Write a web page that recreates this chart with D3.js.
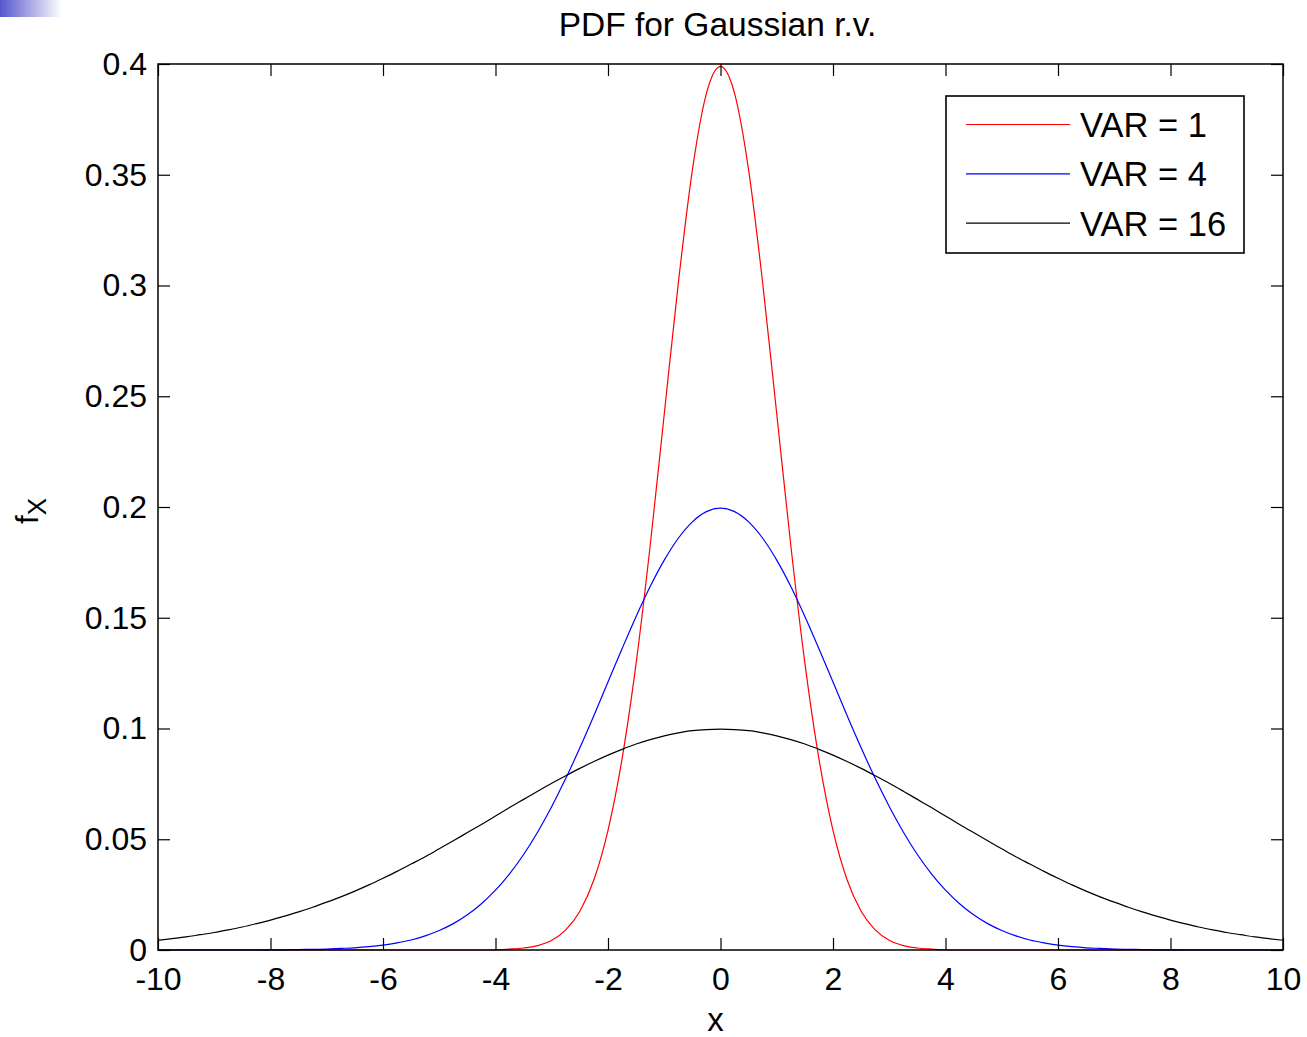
<!DOCTYPE html>
<html>
<head>
<meta charset="utf-8">
<style>
  body { margin: 0; background: #fff; }
  svg text { font-family: "Liberation Sans", Arial, sans-serif; fill: #000; }
</style>
</head>
<body>
<script src="https://d3js.org/d3.v7.min.js"></script>
<script>
// sample points on x (step 0.25)
var xs = d3.range(-10, 10.0001, 0.25);

// pdf values, left to right
var var1 = [
  0,0,0,0,0,0,0,0,0,0, 0,0,0,0,0,0,0,0,0,0,
  0,0,0,0,0.0001,0.0004,0.0009,0.0020,0.0044,0.0091,
  0.0175,0.0317,0.0540,0.0863,0.1295,0.1826,0.2420,0.3011,0.3521,0.3867,
  0.3989,
  0.3867,0.3521,0.3011,0.2420,0.1826,0.1295,0.0863,0.0540,0.0317,0.0175,
  0.0091,0.0044,0.0020,0.0009,0.0004,0.0001,0,0,0,0,
  0,0,0,0,0,0,0,0,0,0, 0,0,0,0,0,0,0,0,0,0
];
var var4 = [
  0,0,0,0,0,0,0,0,
  0.0001,0.0001,0.0002,0.0003,0.0004,0.0007,0.0010,0.0015,0.0022,0.0032,0.0045,0.0064,
  0.0088,0.0119,0.0159,0.0209,0.0270,0.0344,0.0431,0.0533,0.0648,0.0775,
  0.0913,0.1059,0.1210,0.1360,0.1506,0.1641,0.1760,0.1859,0.1933,0.1979,
  0.1995,
  0.1979,0.1933,0.1859,0.1760,0.1641,0.1506,0.1360,0.1210,0.1059,0.0913,
  0.0775,0.0648,0.0533,0.0431,0.0344,0.0270,0.0209,0.0159,0.0119,0.0088,
  0.0064,0.0045,0.0032,0.0022,0.0015,0.0010,0.0007,0.0004,0.0003,0.0002,
  0.0001,0.0001,0,0,0,0,0,0,0,0
];
var var16 = [
  0.0044,0.0051,0.0059,0.0069,0.0079,0.0091,0.0104,0.0119,0.0135,0.0153,
  0.0172,0.0193,0.0216,0.0240,0.0266,0.0294,0.0324,0.0355,0.0388,0.0421,
  0.0457,0.0493,0.0530,0.0567,0.0605,0.0643,0.0680,0.0717,0.0753,0.0787,
  0.0820,0.0851,0.0880,0.0906,0.0930,0.0950,0.0967,0.0980,0.0990,0.0995,
  0.0997,
  0.0995,0.0990,0.0980,0.0967,0.0950,0.0930,0.0906,0.0880,0.0851,0.0820,
  0.0787,0.0753,0.0717,0.0680,0.0643,0.0605,0.0567,0.0530,0.0493,0.0457,
  0.0421,0.0388,0.0355,0.0324,0.0294,0.0266,0.0240,0.0216,0.0193,0.0172,
  0.0153,0.0135,0.0119,0.0104,0.0091,0.0079,0.0069,0.0059,0.0051,0.0044
];

var seriesNames = ['VAR = 1', 'VAR = 4', 'VAR = 16'];
var seriesColors = ['#ff0000', '#0000ff', '#000000'];
var seriesData = [var1, var4, var16];

var xTicks = [-10, -8, -6, -4, -2, 0, 2, 4, 6, 8, 10];
var yTicks = [0, 0.05, 0.1, 0.15, 0.2, 0.25, 0.3, 0.35, 0.4];

var width = 1307, height = 1037;
var margin = { top: 64, right: 24, bottom: 87, left: 158 };
var plotW = width - margin.left - margin.right;   // 1125
var plotH = height - margin.top - margin.bottom;  // 886

var svg = d3.select('body').append('svg')
  .attr('width', width)
  .attr('height', height);

// little gradient strip in the upper left corner
var grad = svg.append('defs').append('linearGradient').attr('id', 'corner');
grad.append('stop').attr('offset', '0%').attr('stop-color', '#5656cc');
grad.append('stop').attr('offset', '100%').attr('stop-color', '#ffffff');
svg.append('rect').attr('x', 0).attr('y', 0).attr('width', 62).attr('height', 17)
  .attr('fill', 'url(#corner)');

var xScale = d3.scaleLinear().domain([-10, 10]).range([0, plotW]);
var yScale = d3.scaleLinear().domain([0, 0.4]).range([plotH, 0]);

var g = svg.append('g').attr('transform', 'translate(' + margin.left + ',' + margin.top + ')');

// curves
var line = d3.line()
  .x(function(d) { return xScale(d[0]); })
  .y(function(d) { return yScale(d[1]); })
  .curve(d3.curveMonotoneX);

seriesData.forEach(function(vals, i) {
  var pts = xs.map(function(x, j) { return [x, vals[j]]; });
  g.append('path')
    .attr('d', line(pts))
    .attr('fill', 'none')
    .attr('stroke', seriesColors[i])
    .attr('stroke-width', 1.2);
});

// axes, ticks inside on all four sides
var tickLen = 12;
var fmtY = function(d) { return d === 0 ? '0' : String(+d.toFixed(2)); };
var fmtX = function(d) { return String(d); };   // plain hyphen minus, like the original

var xAxisB = d3.axisBottom(xScale).tickValues(xTicks).tickSizeInner(-tickLen).tickSizeOuter(0).tickPadding(17).tickFormat(fmtX);
var xAxisT = d3.axisTop(xScale).tickValues(xTicks).tickSizeInner(-tickLen).tickSizeOuter(0).tickFormat('');
var yAxisL = d3.axisLeft(yScale).tickValues(yTicks).tickSizeInner(-tickLen).tickSizeOuter(0).tickPadding(11).tickFormat(fmtY);
var yAxisR = d3.axisRight(yScale).tickValues(yTicks).tickSizeInner(-tickLen).tickSizeOuter(0).tickFormat('');

function styleAxis(sel) {
  sel.select('.domain').remove();
  sel.selectAll('line').attr('stroke', '#000').attr('stroke-width', 1.2);
  sel.selectAll('text').attr('font-size', '32px').attr('fill', '#000')
    .attr('font-family', '"Liberation Sans", Arial, sans-serif');
}

g.append('g').attr('transform', 'translate(0,' + plotH + ')').call(xAxisB).call(styleAxis)
  .selectAll('text').attr('dy', '0.71em');
g.append('g').call(xAxisT).call(styleAxis);
g.append('g').call(yAxisL).call(styleAxis);
g.append('g').attr('transform', 'translate(' + plotW + ',0)').call(yAxisR).call(styleAxis);

// frame
g.append('rect')
  .attr('x', 0).attr('y', 0).attr('width', plotW).attr('height', plotH)
  .attr('fill', 'none').attr('stroke', '#000').attr('stroke-width', 1.5);

// title and labels
svg.append('text')
  .attr('x', margin.left + plotW / 2 - 3).attr('y', 36)
  .attr('text-anchor', 'middle').attr('font-size', '33.5px')
  .text('PDF for Gaussian r.v.');

svg.append('text')
  .attr('x', margin.left + plotW / 2 - 5).attr('y', 1031)
  .attr('text-anchor', 'middle').attr('font-size', '33px')
  .text('x');

var yl = svg.append('text')
  .attr('transform', 'translate(38,511) rotate(-90)')
  .attr('text-anchor', 'middle').attr('font-size', '31px');
yl.append('tspan').text('f');
yl.append('tspan').attr('dy', '0.3em').attr('font-size', '26px').text('X');

// legend
var lg = svg.append('g').attr('transform', 'translate(946,96)');
lg.append('rect')
  .attr('width', 298).attr('height', 157)
  .attr('fill', '#fff').attr('stroke', '#000').attr('stroke-width', 1.6);
seriesNames.forEach(function(name, i) {
  var yy = 28.5 + i * 49.3;
  lg.append('line')
    .attr('x1', 20).attr('x2', 124).attr('y1', yy).attr('y2', yy)
    .attr('stroke', seriesColors[i]).attr('stroke-width', 1.2);
  lg.append('text')
    .attr('x', 134).attr('y', yy).attr('dy', '0.36em')
    .attr('font-size', '34.5px')
    .text(name);
});
</script>
</body>
</html>
